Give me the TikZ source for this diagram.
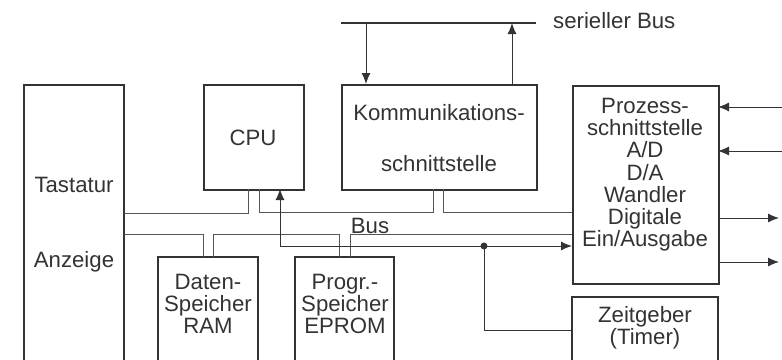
\documentclass[tikz,border=0pt]{standalone}
\usepackage{fontspec}
\setmainfont{Liberation Sans}
\usetikzlibrary{arrows.meta}
\definecolor{ink}{HTML}{333333}
\definecolor{wire}{HTML}{555555}
\newcommand{\lblfont}{\fontsize{22.2}{22.2}\selectfont\lineskiplimit=-20pt\relax}
\begin{document}
\begin{tikzpicture}[x=1pt,y=-1pt,
  blk/.style={draw=ink,line width=1.8pt},
  lbl/.style={text=ink,font=\lblfont,align=center,inner sep=0pt},
  wr/.style={draw=wire,line width=1pt},
  ar/.style={draw=ink,line width=1pt,-{Latex[length=11pt,width=9pt]}}]
\useasboundingbox (0,0) rectangle (782,359);
% boxes (open at bottom)
\draw[blk] (24,365) -- (24,85) -- (124,85) -- (124,365);
\draw[blk] (158,365) -- (158,257) -- (258,257) -- (258,365);
\draw[blk] (295,365) -- (295,257) -- (394,257) -- (394,365);
\draw[blk] (572,365) -- (572,297) -- (718,297) -- (718,365);
\node[blk,minimum width=100pt,minimum height=105pt,anchor=north west,inner sep=0pt] (cpu) at (203,84) {};
\node[blk,minimum width=195pt,minimum height=105pt,anchor=north west,inner sep=0pt] (komm) at (341,84) {};
\node[blk,minimum width=146pt,minimum height=198pt,anchor=north west,inner sep=0pt] (proz) at (572,85) {};
% serial bus
\coordinate (sbl) at (341,23);
\coordinate (sbr) at (536,23);
\draw[ink,line width=2pt] (sbl) -- (sbr);
\node[lbl,anchor=west] (sbus) at (553,21) {serieller Bus};
\draw[ar] (366,23) -- (366,84);
\draw[ar] (512,84) -- (512,23);
% texts
\node[lbl] (tast) at (74,185) {Tastatur};
\node[lbl] (anz) at (74,262) {Anzeige};
\node[lbl] (cputxt) at (253,138) {CPU};
\node[lbl] (k1) at (439,113) {Kommunikations-};
\node[lbl] (k2) at (439,164) {schnittstelle};
\node[lbl,anchor=north] (ptxt) at (645,98) {Prozess-\\schnittstelle\\A/D\\D/A\\Wandler\\Digitale\\Ein/Ausgabe};
\node[lbl,anchor=north] (ztxt) at (645,306) {Zeitgeber\\(Timer)};
\node[lbl,anchor=north] (dtxt) at (208,274) {Daten-\\Speicher\\RAM};
\node[lbl,anchor=north] (etxt) at (345,274) {Progr.-\\Speicher\\EPROM};
\node[lbl] (bus) at (370,226) {Bus};
% bus wiring
\draw[wr] (124,213) -- (248,213) -- (248,189);
\draw[wr] (259,189) -- (259,212) -- (433,212) -- (433,189);
\draw[wr] (443,189) -- (443,212) -- (572,212);
\draw[wr] (124,234) -- (203,234) -- (203,257);
\draw[wr] (213,257) -- (213,234) -- (339,234) -- (339,257);
\draw[wr] (350,257) -- (350,234) -- (572,234);
% control line with arrows
\coordinate (dot) at (484,246);
\draw[ar] (280,246) -- (280,189);
\draw[ar] (280,246) -- (572,246);
\fill[ink] (dot) circle (3.5pt);
\draw[draw=ink,line width=1pt] (dot) -- (484,330) -- (572,330);
% process I/O arrows
\draw[ar] (782,107) -- (718,107);
\draw[ar] (782,151) -- (718,151);
\draw[ar] (718,218) -- (779,218);
\draw[ar] (718,262) -- (779,262);
\end{tikzpicture}
\end{document}
